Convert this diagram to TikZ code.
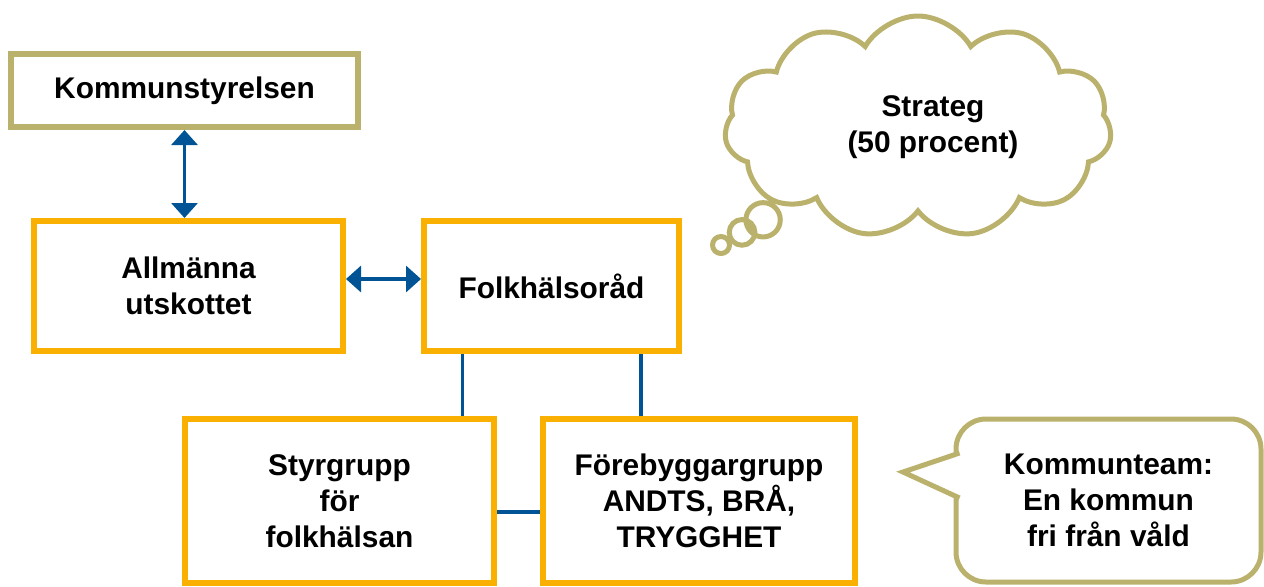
\documentclass[tikz,border=0pt]{standalone}
\usepackage{fontspec}
\setmainfont{Liberation Sans}
\usetikzlibrary{arrows.meta}
\usetikzlibrary{calc}
\usetikzlibrary{shapes.symbols}
\usetikzlibrary{shapes.callouts}
\definecolor{myorange}{RGB}{249,176,0}
\definecolor{myolive}{RGB}{186,178,108}
\definecolor{mydarkblue}{RGB}{0,84,150}
\newcommand{\unitpx}{0.02cm}
\newcommand{\fontbox}{\fontsize{17}{20.5}\selectfont\bfseries}
\newcommand{\widthwide}{309*\unitpx}
\newcommand{\heightmid}{130*\unitpx}
\newcommand{\heightlow}{164*\unitpx}
\newcommand{\cloudpad}{\hspace*{0.6cm}}
\tikzset{
    common/.style={rectangle, align=center, inner sep=0pt, fill=white, text=black, font=\fontbox},
    council/.style={common, draw=myolive, line width=6*\unitpx},
    group/.style={common, draw=myorange, line width=6*\unitpx},
    link/.style={mydarkblue, line width=3.2*\unitpx},
    both/.style={link, {Triangle[width=26*\unitpx, length=15*\unitpx]}-{Triangle[width=26*\unitpx, length=15*\unitpx]}},
    thought/.style={common, cloud callout, draw=myolive, line width=5*\unitpx,
        cloud puffs=11, cloud puff arc=120, aspect=1.7,
        minimum width=387*\unitpx, minimum height=222*\unitpx,
        callout pointer segments=3, callout pointer start size=0.86cm, callout pointer end size=0.34cm},
    speech/.style={common, draw=myolive, line width=5*\unitpx, rounded corners=0.6cm,
        minimum width=305*\unitpx, minimum height=163*\unitpx},
    beak/.style={draw=myolive, fill=white, line width=5*\unitpx, line join=miter}
}

\begin{document}
\begin{tikzpicture}[x=\unitpx, y=-\unitpx]
    \clip (0,0) rectangle (1264,586);

    \node[council, minimum width=347*\unitpx, minimum height=73*\unitpx] (KS) at (184.5,90.5) {Kommunstyrelsen};
    \node[group, minimum width=\widthwide, minimum height=\heightmid] (AU) at (188.5,286) {Allmänna\\utskottet};
    \node[group, minimum width=255*\unitpx, minimum height=\heightmid] (FR) at (551.5,286) {Folkhälsoråd};
    \node[group, minimum width=\widthwide, minimum height=\heightlow] (SG) at (339.5,501) {Styrgrupp\\för\\folkhälsan};
    \node[group, minimum width=312*\unitpx, minimum height=\heightlow] (FG) at (699,501) {Förebyggargrupp\\ANDTS, BRÅ,\\TRYGGHET};

    \node[thought, callout absolute pointer={(721,245)}] (strateg) at (918,127) {\cloudpad Strateg\\\cloudpad(50 procent)};
    \node[speech] (team) at (1108.5,500.5) {Kommunteam:\\En kommun\\fri från våld};
    \path[beak] ($(team.west)+(6,-47.5)$) -- ($(team.west)+(-50.5,-28.5)$) -- ($(team.west)+(6,-2.5)$);

    % arrows between the councils
    \draw[both] (KS.south) -- (KS.south |- AU.north);
    \draw[both] ([yshift=0.14cm]AU.east) -- ([yshift=0.14cm]FR.west);

    % plain links down to the groups
    \draw[link] ($(FR.south west)!0.16!(FR.south east)$) coordinate (fr-left) -- (fr-left |- SG.north);
    \draw[link] ($(FR.south west)!0.843!(FR.south east)$) coordinate (fr-right) -- (fr-right |- FG.north);
    \draw[link] ([yshift=-0.22cm]SG.east) -- ([yshift=-0.22cm]FG.west);
\end{tikzpicture}
\end{document}
